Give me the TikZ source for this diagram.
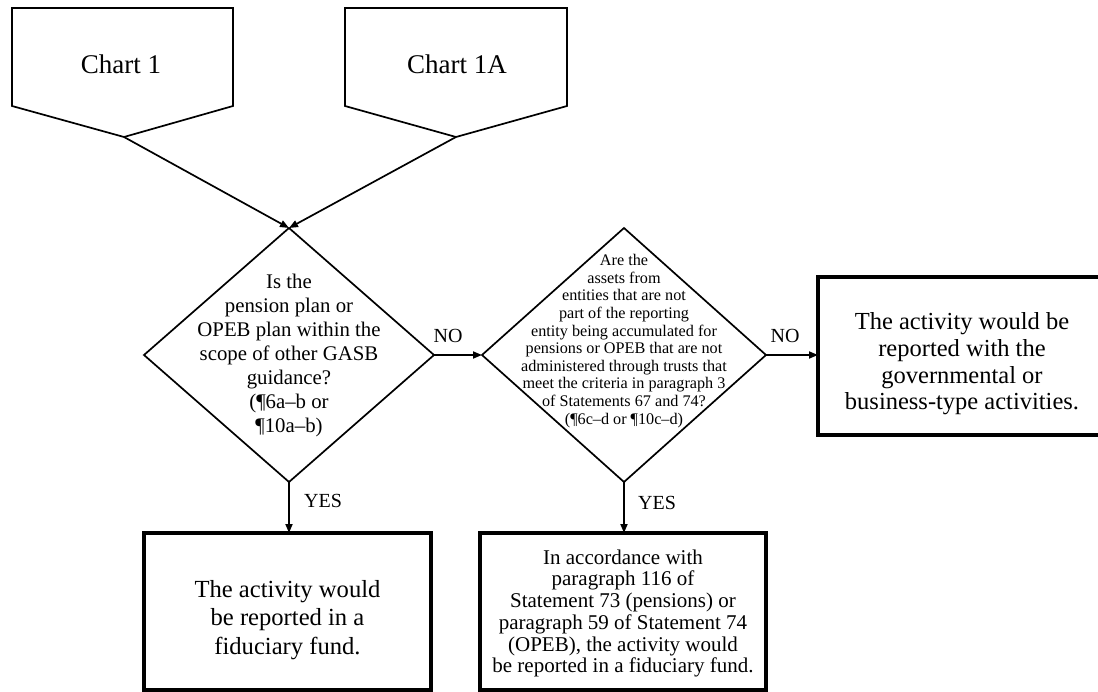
\documentclass[tikz,border=0pt]{standalone}
\usepackage{fontspec}
\setmainfont{Liberation Serif}
\usetikzlibrary{arrows.meta,shapes.geometric}
\begin{document}
\begin{tikzpicture}[x=1pt,y=-1pt,
  thinline/.style={line width=1.7pt, line join=miter},
  arr/.style={line width=1.7pt, -{Triangle[length=9pt,width=7pt]}},
  dia/.style={diamond, draw, line width=1.7pt, inner sep=0pt, outer sep=0pt, minimum height=254pt},
  outbox/.style={draw, line width=3.5pt, inner sep=0pt, outer sep=0pt, minimum height=157pt},
  boxtext/.style={align=center, inner sep=0pt},
  charttext/.style={font={\fontsize{27}{30}\selectfont}},
  lbl/.style={font={\fontsize{20}{22}\selectfont}, inner sep=0pt}
]
\useasboundingbox (0,0) rectangle (1098,692);
\fill[white] (0,0) rectangle (1098,692);

% off-page connectors (pentagons)
\draw[thinline] (12,8) -- (233,8) -- (233,106) -- (124,137) -- (12,106) -- cycle;
\draw[thinline] (345,8) -- (567,8) -- (567,106) -- (456,137) -- (345,106) -- cycle;
\node[charttext] (c1) at (121,64) {Chart 1};
\node[charttext] (c1a) at (457,64) {Chart 1A};
\coordinate (c1p) at (124,137);
\coordinate (c1ap) at (456,137);

% decisions
\node[dia, minimum width=290pt] (d1) at (289,355) {};
\node[boxtext, font={\fontsize{20.8}{24}\selectfont}] (d1t) at (289,355)
  {Is the\\pension plan or\\OPEB plan within the\\scope of other GASB\\guidance?\\(¶6a–b or\\¶10a–b)};

\node[dia, minimum width=284pt] (d2) at (624,355) {};
\node[boxtext, font={\fontsize{16.2}{17.6}\selectfont}] (d2t) at (624,341)
  {Are the\\assets from\\entities that are not\\part of the reporting\\entity being accumulated for\\pensions or OPEB that are not\\administered through trusts that\\meet the criteria in paragraph 3\\of Statements 67 and 74?\\(¶6c–d or ¶10c–d)};

% outcomes
\node[outbox, minimum width=288pt, minimum height=158pt] (rbox) at (962,356) {};
\node[boxtext, font={\fontsize{24.5}{26.7}\selectfont}] (rboxt) at (962,364)
  {The activity would be\\reported with the\\governmental or\\business-type activities.};
\node[outbox, minimum width=287pt] (lb) at (287.5,611.5) {};
\node[boxtext, font={\fontsize{24.6}{28.5}\selectfont}] (lbt) at (287.5,620)
  {The activity would\\be reported in a\\fiduciary fund.};
\node[outbox, minimum width=286pt] (mb) at (623,611.5) {};
\node[boxtext, font={\fontsize{21}{21.7}\selectfont}] (mbt) at (623,613.5)
  {In accordance with\\paragraph 116 of\\Statement 73 (pensions) or\\paragraph 59 of Statement 74\\(OPEB), the activity would\\be reported in a fiduciary fund.};

% connectors
\draw[arr] (c1p) -- (d1.north);
\draw[arr] (c1ap) -- (d1.north);
\draw[arr] (d1.east) -- (d2.west);
\draw[arr] (d2.east) -- (d2.east -| rbox.west);
\draw[arr] (d1.south) -- (d1.south |- lb.north);
\draw[arr] (d2.south) -- (d2.south |- mb.north);

% labels
\node[lbl] (no1) at (448,336) {NO};
\node[lbl] (no2) at (785,336) {NO};
\node[lbl] (yes1) at (323,501) {YES};
\node[lbl] (yes2) at (657,503) {YES};
\end{tikzpicture}
\end{document}
